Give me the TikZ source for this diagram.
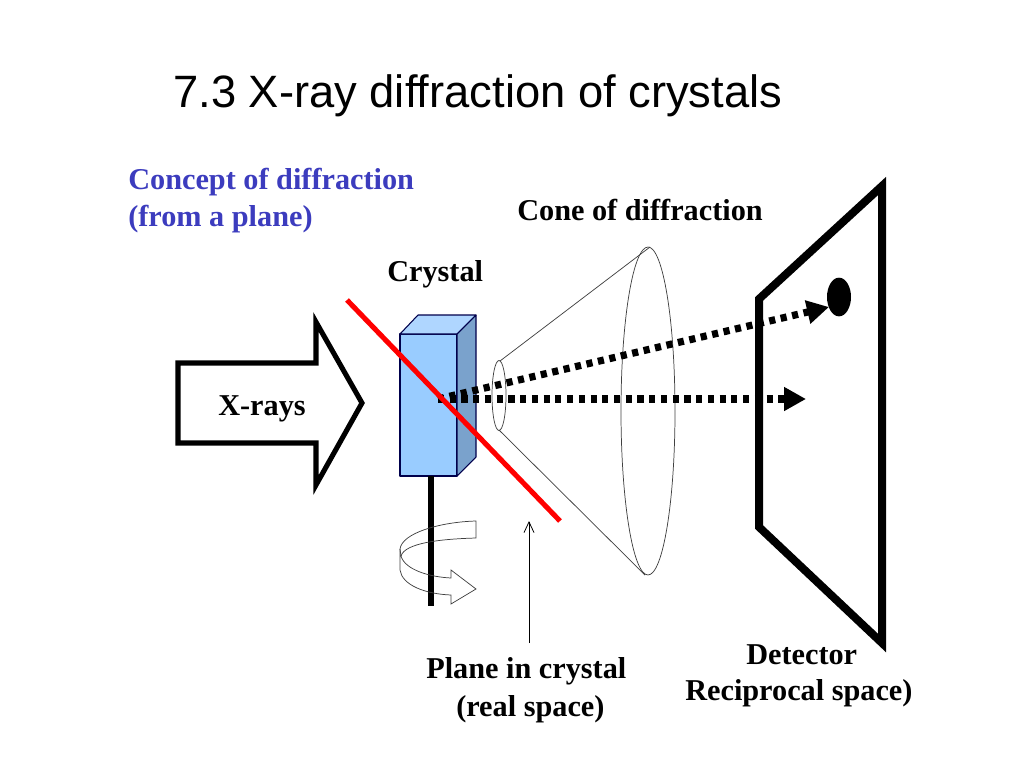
\documentclass[tikz,border=0pt]{standalone}
\usepackage{fontspec}
\setmainfont{Liberation Serif}
\newfontfamily\titlefont{Liberation Sans}
\usetikzlibrary{arrows.meta,shapes.geometric}
\definecolor{crystalfront}{RGB}{153,204,255}
\definecolor{crystaltop}{RGB}{175,214,255}
\definecolor{crystalside}{RGB}{122,162,204}
\definecolor{conceptblue}{RGB}{60,60,190}
\tikzset{
	lbl/.style={anchor=base west,inner sep=0pt,font=\fontsize{22.7}{26}\selectfont\bfseries},
	face/.style={draw=black!70!blue,line width=0.8pt,line join=round},
	ray/.style={line width=5.4pt,dash pattern=on 4.6pt off 4.2pt,-{Triangle[length=16.5pt,width=17pt]}},
	thinline/.style={line width=0.55pt,draw=black!75}
}
\begin{document}
\begin{tikzpicture}[x=0.75pt,y=-0.75pt]
	\useasboundingbox (0,0) rectangle (1024,768);
	\node[anchor=base west,inner sep=0pt,font=\titlefont\fontsize{34}{40}\selectfont] (title) at (173,107) {7.3 X-ray diffraction of crystals};
	\node[lbl,text=conceptblue] (concept) at (128,189) {Concept of diffraction};
	\node[lbl,text=conceptblue] (fromplane) at (128,226) {(from a plane)};
	\node[lbl] (conelabel) at (517,220) {Cone of diffraction};
	\node[lbl] (crystallabel) at (387,281) {Crystal};
	\node[lbl] (xrays) at (218,415) {X-rays};
	\node[lbl] (planelabel) at (426,678) {Plane in crystal};
	\node[lbl] (reallabel) at (456,716) {(real space)};
	\node[lbl] (detectorlabel) at (746,664) {Detector};
	\node[lbl] (reciprocal) at (685,700) {Reciprocal space)};

	% big arrow
	\draw[line width=3.8pt,miter limit=10] (178,363) -- (316,363) -- (316,322) -- (362,403) -- (316,485) -- (316,443) -- (178,443) -- cycle;

	% crystal
	\fill[crystalfront,face] (400,334) rectangle (457,476);
	\fill[crystaltop,face] (400,334) -- (418,315) -- (476,315) -- (457,334) -- cycle;
	\fill[crystalside,face] (457,334) -- (476,315) -- (476,457) -- (457,476) -- cycle;

	\coordinate (rodtop) at (431,476);
	\coordinate (rodend) at (431,606);
	\draw[line width=3.8pt] (rodtop) -- (rodend);

	% rotation arrow
	\draw[thinline] (476,521) -- (476,538) .. controls (440,539) and (405,543) .. (401,556) .. controls (405,570) and (430,577) .. (451,578) -- (451,570) -- (476,589) -- (451,604) -- (451,595) .. controls (425,594) and (402,585) .. (400,570) -- (400,549) .. controls (402,533) and (440,522) .. (476,521) -- cycle;
	\draw[thinline] (400,549) -- (401,556);

	% cone
	\node[draw,ellipse,thinline,minimum width=10.5pt,minimum height=52.5pt,inner sep=0pt] (small) at (499,395.5) {};
	\node[draw,ellipse,thinline,minimum width=40.5pt,minimum height=246pt,inner sep=0pt] (big) at (648,411) {};
	\coordinate (conetopa) at (500,361);
	\coordinate (conetopb) at (650,247);
	\coordinate (conebota) at (499,430);
	\coordinate (conebotb) at (645,575);
	\draw[thinline] (conetopa) -- (conetopb);
	\draw[thinline] (conebota) -- (conebotb);

	% detector
	\draw[line width=6pt,miter limit=10] (882,186) -- (882,643) -- (759,527) -- (759,299) -- cycle;
	\node[fill=black,ellipse,minimum width=18pt,minimum height=29pt,inner sep=0pt] (spot) at (839,297) {};

	% rays
	\coordinate (origin) at (438,399);
	\coordinate (straight) at (806,399);
	\coordinate (diffracted) at (829,307);
	\draw[ray] (origin) -- (straight);
	\draw[ray] (origin) -- (diffracted);

	% plane
	\coordinate (planea) at (347,300);
	\coordinate (planeb) at (560,521);
	\draw[red,line width=3.8pt] (planea) -- (planeb);

	\coordinate (pointerfrom) at (529,643);
	\coordinate (pointerto) at (529,521);
	\draw[-{Straight Barb[length=8pt,width=7.5pt]},line width=0.6pt] (pointerfrom) -- (pointerto);
\end{tikzpicture}
\end{document}
